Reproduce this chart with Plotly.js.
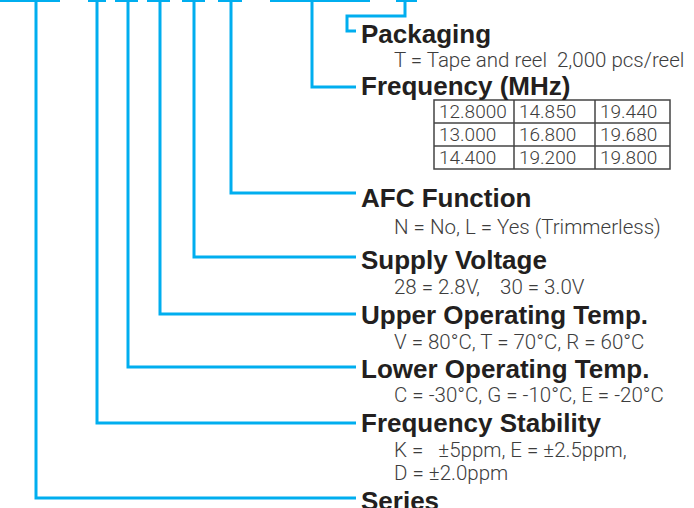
<!DOCTYPE html>
<html><head><meta charset="utf-8">
<script src="https://cdn.plot.ly/plotly-3.0.1.min.js"></script>
<style>html,body{margin:0;padding:0;background:#fff;overflow:hidden}</style>
</head><body>
<div id="chart" style="width:694px;height:508px"></div>
<script>
// ---- content ----
const headings = ["Packaging", "Frequency (MHz)", "AFC Function", "Supply Voltage",
  "Upper Operating Temp.", "Lower Operating Temp.", "Frequency Stability", "Series"];
const descriptions = [
  ["T = Tape and reel\u00A0 2,000 pcs/reel"],
  [],
  ["N = No, L = Yes (Trimmerless)"],
  ["28 = 2.8V,\u00A0\u00A0\u00A0 30 = 3.0V"],
  ["V = 80°C, T = 70°C, R = 60°C"],
  ["C = -30°C, G = -10°C, E = -20°C"],
  ["K =\u00A0\u00A0 ±5ppm, E = ±2.5ppm,", "D = ±2.0ppm"],
  []
];
const freqRow1 = ["12.8000", "14.850", "19.440"];
const freqRow2 = ["13.000", "16.800", "19.680"];
const freqRow3 = ["14.400", "19.200", "19.800"];
const freqTable = [freqRow1, freqRow2, freqRow3];

// ---- layout geometry (pixels) ----
const BLUE = "#00AEEF";
const connectorX = [405, 312, 231, 194, 160, 128, 97, 36];
const headingY = [34, 86, 198, 260, 315, 369, 423, 501];
const lineY = [31, 87, 193, 257, 314, 367, 423, 498];
const descY = [[60], [], [227], [287], [342], [395], [450, 473], []];
const topBars = [[0, 60], [88, 106], [115, 138], [147, 170], [182, 205], [218, 242], [270, 370], [396, 417]];
const lineEnd = 356;
const textX = 359, descX = 392;
const tableCols = [434, 514, 595, 670];
const tableRows = [100, 123, 146, 169];

const shapes = [];
const annotations = [];

topBars.forEach(b => shapes.push({type: "line", xref: "x", yref: "y", x0: b[0], x1: b[1], y0: 0.5, y1: 0.5,
  line: {color: BLUE, width: 3}}));

connectorX.forEach((cx, i) => {
  let path;
  if (i === 0) {
    path = `M ${cx} 0 V 16 H 347 V ${lineY[i]} H ${lineEnd}`;
  } else {
    path = `M ${cx} 0 V ${lineY[i]} H ${lineEnd}`;
  }
  shapes.push({type: "path", xref: "x", yref: "y", path: path, line: {color: BLUE, width: 3}});
});

headings.forEach((h, i) => annotations.push({text: h, x: textX, y: headingY[i], xref: "x", yref: "y",
  xanchor: "left", yanchor: "middle", showarrow: false,
  font: {family: "Liberation Sans, Arial, sans-serif", size: 26, weight: "bold", color: "#231f20"}}));

descriptions.forEach((arr, i) => arr.forEach((d, j) => annotations.push({text: d, x: descX, y: descY[i][j],
  xref: "x", yref: "y", xanchor: "left", yanchor: "middle", showarrow: false,
  font: {family: "Roboto, Liberation Sans, sans-serif", size: 20.5, weight: 300, color: "#3d3d3d"}})));

// table
shapes.push({type: "rect", xref: "x", yref: "y", x0: tableCols[0], x1: tableCols[3], y0: tableRows[0], y1: tableRows[3],
  line: {color: "#444", width: 1.5}});
[1, 2].forEach(c => shapes.push({type: "line", xref: "x", yref: "y", x0: tableCols[c], x1: tableCols[c],
  y0: tableRows[0], y1: tableRows[3], line: {color: "#444", width: 1.5}}));
[1, 2].forEach(r => shapes.push({type: "line", xref: "x", yref: "y", x0: tableCols[0], x1: tableCols[3],
  y0: tableRows[r], y1: tableRows[r], line: {color: "#444", width: 1.5}}));
freqTable.forEach((row, r) => row.forEach((v, c) => annotations.push({text: v,
  x: tableCols[c] + 3, y: (tableRows[r] + tableRows[r + 1]) / 2, xref: "x", yref: "y",
  xanchor: "left", yanchor: "middle", showarrow: false,
  font: {family: "Roboto, Liberation Sans, sans-serif", size: 19, weight: 300, color: "#3d3d3d"}})));

const layout = {
  width: 694, height: 508,
  margin: {l: 0, r: 0, t: 0, b: 0},
  paper_bgcolor: "#fff", plot_bgcolor: "#fff",
  xaxis: {range: [0, 694], visible: false, fixedrange: true},
  yaxis: {range: [508, 0], visible: false, fixedrange: true},
  showlegend: false,
  shapes: shapes,
  annotations: annotations
};
Plotly.newPlot("chart", [], layout, {staticPlot: true, displayModeBar: false});
</script>
</body></html>
